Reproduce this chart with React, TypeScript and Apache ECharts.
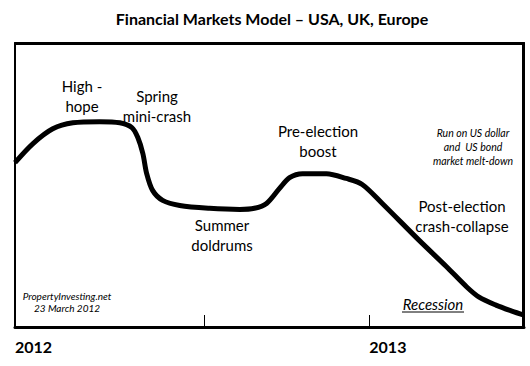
import React, { useEffect, useRef } from "react";
import * as echarts from "echarts";

// months since January 2012
const months = [0, 0.61, 1.28, 1.96, 2.87, 3.55, 3.96, 4.16, 4.33, 4.46, 4.66, 5.0, 5.58, 6.59, 7.61, 8.11, 8.52, 8.96, 9.3, 9.74, 10.55, 11.22, 11.76, 12.44, 13.69, 14.6, 15.31, 15.72, 16.29, 16.83, 17.24];
// market level (0 = floor of the frame, 100 = top)
const level = [57.9, 64.6, 69.8, 71.9, 72.3, 71.9, 70.2, 66.7, 61.1, 54.0, 48.1, 44.6, 42.8, 41.8, 41.4, 41.8, 43.5, 48.8, 52.6, 54.0, 54.0, 52.3, 50.2, 43.5, 30.5, 21.4, 14.0, 10.5, 7.7, 5.6, 4.2];

const tickValues = [0, 6.4, 12];
const yearLabelValues = [0, 12];
const yearLabels = ["2012", "2013"];

const FONT = "Lato, 'Liberation Sans', sans-serif";

export default function App() {
  const ref = useRef<HTMLDivElement>(null);
  useEffect(() => {
    if (!ref.current) return;
    const chart = echarts.init(ref.current, undefined, { renderer: "svg" });
    const txt = (x: number, y: number, text: string, size: number, extra: any = {}) => ({
      type: "text",
      x,
      y,
      style: {
        text,
        fontFamily: FONT,
        fontSize: size,
        fill: "#000",
        align: "center",
        verticalAlign: "middle",
        lineHeight: size * 1.3,
        ...extra,
      },
    });
    chart.setOption({
      animation: false,
      backgroundColor: "#fff",
      grid: {
        left: 15,
        right: 6,
        top: 43,
        bottom: 39,
      },
      xAxis: [
        {
          type: "value",
          min: 0,
          max: 17.24,
          position: "bottom",
          splitLine: { show: false },
          axisLine: { show: true, onZero: false, lineStyle: { color: "#000", width: 3 } },
          axisTick: {
            show: true,
            inside: true,
            length: 12,
            customValues: tickValues,
            lineStyle: { color: "#000", width: 1 },
          },
          axisLabel: {
            show: true,
            customValues: yearLabelValues,
            formatter: (v: number) => yearLabels[yearLabelValues.indexOf(Math.round(v))] ?? "",
            align: "left",
            margin: 11,
            fontFamily: FONT,
            fontWeight: "bold",
            fontSize: 16,
            color: "#000",
          },
        },
        {
          type: "value",
          min: 0,
          max: 17.24,
          position: "top",
          splitLine: { show: false },
          axisTick: { show: false },
          axisLabel: { show: false },
          axisLine: { show: true, onZero: false, lineStyle: { color: "#000", width: 2 } },
        },
      ],
      yAxis: [
        {
          type: "value",
          min: 0,
          max: 100,
          position: "left",
          splitLine: { show: false },
          axisTick: { show: false },
          axisLabel: { show: false },
          axisLine: { show: true, onZero: false, lineStyle: { color: "#000", width: 2 } },
        },
        {
          type: "value",
          min: 0,
          max: 100,
          position: "right",
          splitLine: { show: false },
          axisTick: { show: false },
          axisLabel: { show: false },
          axisLine: { show: true, onZero: false, lineStyle: { color: "#000", width: 2 } },
        },
      ],
      series: [
        {
          type: "line",
          xAxisIndex: 0,
          yAxisIndex: 0,
          data: months.map((m, i) => [m, level[i]]),
          smooth: 0.3,
          showSymbol: false,
          lineStyle: { color: "#000", width: 5 },
        },
        {
          type: "line",
          xAxisIndex: 1,
          yAxisIndex: 1,
          data: [],
          showSymbol: false,
          silent: true,
        },
      ],
      graphic: [
        {
          type: "line",
          shape: { x1: 14, y1: 44, x2: 525, y2: 44 },
          style: { stroke: "#000", lineWidth: 2 },
        },
        {
          type: "line",
          shape: { x1: 523, y1: 43, x2: 523, y2: 328 },
          style: { stroke: "#000", lineWidth: 2 },
        },
        txt(272, 18, "Financial Markets Model – USA, UK, Europe", 16, { fontWeight: "bold" }),
        txt(82, 96, "High -\nhope", 15),
        txt(157, 106, "Spring\nmini-crash", 15),
        txt(222, 235, "Summer\ndoldrums", 15),
        txt(318, 141, "Pre-election\nboost", 15),
        txt(473, 147, "Run on US dollar\nand  US bond\nmarket melt-down", 10.5, { fontStyle: "italic", lineHeight: 14 }),
        txt(462, 216, "Post-election\ncrash-collapse", 15),
        txt(67, 302, "PropertyInvesting.net\n23 March 2012", 10, { fontStyle: "italic", lineHeight: 12 }),
        txt(433, 304, "Recession", 15, { fontStyle: "italic" }),
        {
          type: "line",
          shape: { x1: 402, y1: 312, x2: 464, y2: 312 },
          style: { stroke: "#000", lineWidth: 1 },
        },
      ],
    });
    return () => chart.dispose();
  }, []);
  return <div ref={ref} style={{ position: "fixed", left: 0, top: 0, width: 530, height: 366 }} />;
}
